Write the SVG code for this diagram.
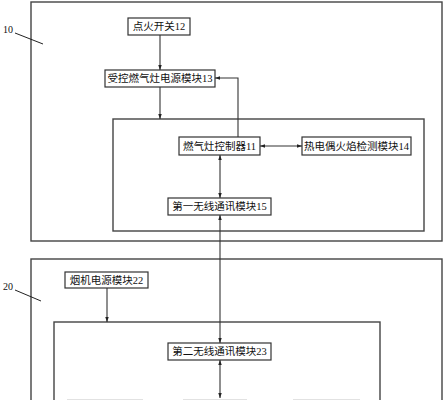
<svg xmlns="http://www.w3.org/2000/svg" width="445" height="400" viewBox="0 0 445 400">
<style>
.frame{fill:none;stroke:#444;stroke-width:1.4}
.box{fill:#fff;stroke:#333;stroke-width:1.2}
.t{font-family:"Liberation Serif","Noto Sans CJK SC",serif;font-size:10.5px;fill:#111;text-anchor:middle;dominant-baseline:central}
.lbl{font-family:"Liberation Serif",serif;font-size:10px;fill:#111}
.c{fill:none;stroke:#333;stroke-width:1.1}
.faint{fill:none;stroke:#e2e2e2;stroke-width:1}
</style>
<defs>
<marker id="ah" viewBox="0 0 10 10" refX="10" refY="5" markerWidth="5" markerHeight="5" orient="auto-start-reverse" markerUnits="userSpaceOnUse">
<path d="M0,1.5 L10,5 L0,8.5 z" fill="#222"/>
</marker>
</defs>
<g id="frame10">
<rect class="frame" x="31" y="2" width="411" height="239"/>
<text class="lbl" x="3" y="33">10</text>
<line x1="15" y1="33" x2="43" y2="44" stroke="#222" stroke-width="1"/>
<rect class="frame" x="113" y="119" width="311" height="112"/>
</g>
<g id="frame20">
<rect class="frame" x="31" y="259" width="411" height="160"/>
<text class="lbl" x="3" y="290">20</text>
<line x1="15" y1="290" x2="41" y2="301" stroke="#222" stroke-width="1"/>
<rect class="frame" x="54" y="322" width="326" height="100"/>
</g>
<g id="faint-bottom">
<line class="faint" x1="67" y1="399.5" x2="143" y2="399.5"/>
<line class="faint" x1="183" y1="399.5" x2="247" y2="399.5"/>
<line class="faint" x1="293" y1="399.5" x2="360" y2="399.5"/>
</g>
<g id="connectors">
<line class="c" x1="160" y1="35" x2="160" y2="70" marker-end="url(#ah)"/>
<line class="c" x1="160" y1="87" x2="160" y2="119" marker-end="url(#ah)"/>
<polyline class="c" points="238,137 238,78 215,78" marker-end="url(#ah)"/>
<line class="c" x1="260" y1="146" x2="302" y2="146" marker-start="url(#ah)" marker-end="url(#ah)"/>
<line class="c" x1="220" y1="155" x2="220" y2="198" marker-start="url(#ah)" marker-end="url(#ah)"/>
<line class="c" x1="220" y1="215" x2="220" y2="343" marker-start="url(#ah)" marker-end="url(#ah)"/>
<line class="c" x1="107" y1="288" x2="107" y2="322" marker-end="url(#ah)"/>
<line class="c" x1="220" y1="360" x2="220" y2="398" marker-start="url(#ah)" marker-end="url(#ah)"/>
</g>
<g id="n12">
<rect class="box" x="128" y="18" width="62" height="17"/>
<text class="t" x="159" y="26.5">点火开关12</text>
</g>
<g id="n13">
<rect class="box" x="105" y="70" width="110" height="17"/>
<text class="t" x="160" y="78.5">受控燃气灶电源模块13</text>
</g>
<g id="n11">
<rect class="box" x="179" y="137" width="81" height="18"/>
<text class="t" x="219.5" y="146">燃气灶控制器11</text>
</g>
<g id="n14">
<rect class="box" x="302" y="137" width="109" height="18"/>
<text class="t" x="356.5" y="146">热电偶火焰检测模块14</text>
</g>
<g id="n15">
<rect class="box" x="168" y="198" width="103" height="17"/>
<text class="t" x="219.5" y="206.5">第一无线通讯模块15</text>
</g>
<g id="n22">
<rect class="box" x="65" y="272" width="83" height="16"/>
<text class="t" x="106.5" y="280">烟机电源模块22</text>
</g>
<g id="n23">
<rect class="box" x="168" y="343" width="103" height="17"/>
<text class="t" x="219.5" y="351.5">第二无线通讯模块23</text>
</g>
</svg>
